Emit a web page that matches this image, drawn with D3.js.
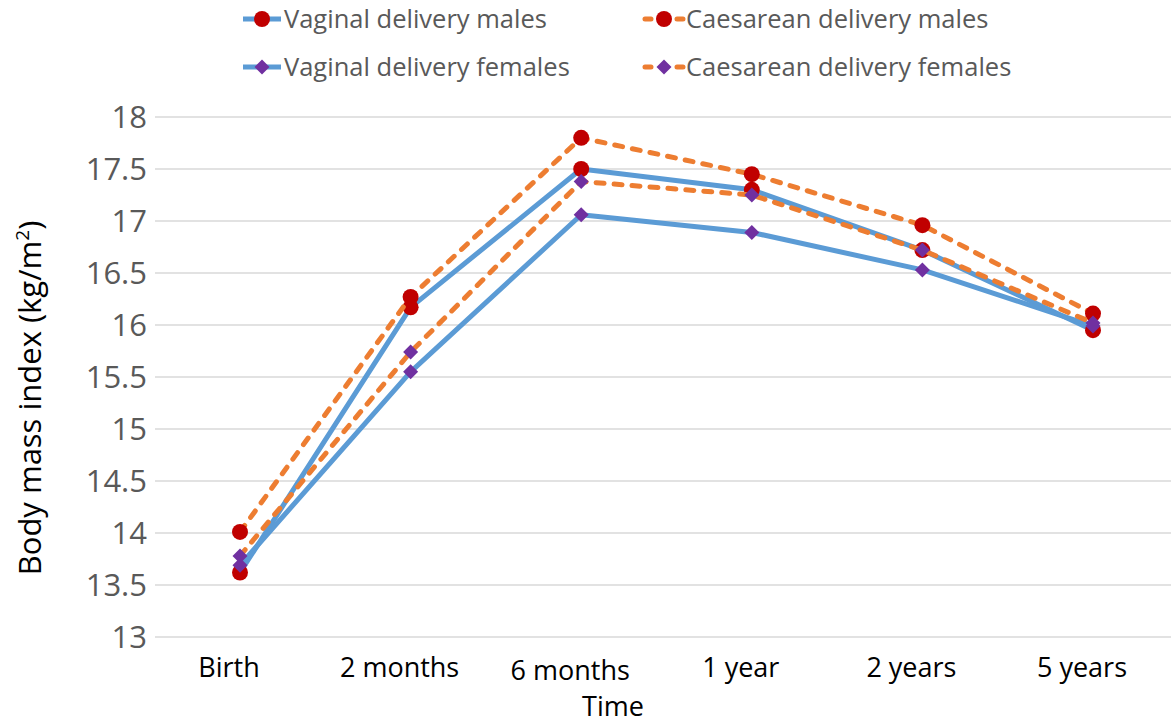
<!DOCTYPE html>
<html>
<head>
<meta charset="utf-8">
<script src="https://cdn.jsdelivr.net/npm/d3@7"></script>
<style>
  body { margin: 0; background: #fff; }
  svg { display: block; }
</style>
</head>
<body>
<div id="chart"></div>
<script>
// BMI by delivery mode and sex, birth to 5 years

const timepoints = ["Birth", "2 months", "6 months", "1 year", "2 years", "5 years"];
const vaginalMales = [13.62, 16.17, 17.50, 17.30, 16.72, 15.95];
const caesareanMales = [14.01, 16.27, 17.80, 17.45, 16.96, 16.11];
const vaginalFemales = [13.69, 15.55, 17.06, 16.89, 16.53, 15.99];
const caesareanFemales = [13.78, 15.74, 17.38, 17.25, 16.72, 16.02];
const yTicks = [13, 13.5, 14, 14.5, 15, 15.5, 16, 16.5, 17, 17.5, 18];

const series = [
  {name: "Vaginal delivery males", values: vaginalMales, color: "#5b9bd5", dash: null, marker: "circle"},
  {name: "Caesarean delivery males", values: caesareanMales, color: "#ed7d31", dash: "8,10", marker: "circle"},
  {name: "Vaginal delivery females", values: vaginalFemales, color: "#5b9bd5", dash: null, marker: "diamond"},
  {name: "Caesarean delivery females", values: caesareanFemales, color: "#ed7d31", dash: "8,10", marker: "diamond"}
];

const W = 1171, H = 726;
const svg = d3.select("#chart").append("svg")
  .attr("width", W)
  .attr("height", H);

const x = d3.scalePoint()
  .domain(timepoints)
  .range([240, 1093]);

const y = d3.scaleLinear()
  .domain([13, 18])
  .range([637, 117]);

// gridlines
svg.append("g")
  .selectAll("line")
  .data(yTicks)
  .enter()
  .append("line")
  .attr("x1", 155)
  .attr("x2", W)
  .attr("y1", d => y(d))
  .attr("y2", d => y(d))
  .attr("stroke", "#d9d9d9")
  .attr("stroke-width", 1.5);

// y tick labels
svg.append("g")
  .selectAll("text")
  .data(yTicks)
  .enter()
  .append("text")
  .attr("x", 147)
  .attr("y", d => y(d))
  .attr("dy", "0.36em")
  .attr("text-anchor", "end")
  .attr("font-family", "'Open Sans', sans-serif")
  .attr("font-size", 31)
  .attr("fill", "#595959")
  .text(d => d);

// x labels (Excel nudges them a bit left; 6 months sits lower)
svg.append("g")
  .selectAll("text")
  .data(timepoints)
  .enter()
  .append("text")
  .attr("x", d => x(d) - 11)
  .attr("y", (d, i) => i === 2 ? 680 : 677)
  .attr("text-anchor", "middle")
  .attr("font-family", "'Open Sans', sans-serif")
  .attr("font-size", 27)
  .attr("fill", "#000")
  .text(d => d);

// axis titles
svg.append("text")
  .attr("x", 613)
  .attr("y", 716)
  .attr("text-anchor", "middle")
  .attr("font-family", "'Open Sans', sans-serif")
  .attr("font-size", 27)
  .attr("fill", "#000")
  .text("Time");

const yTitle = svg.append("text")
  .attr("transform", "translate(41,398) rotate(-90)")
  .attr("text-anchor", "middle")
  .attr("font-family", "'Open Sans', sans-serif")
  .attr("font-size", 31)
  .attr("fill", "#000");
yTitle.append("tspan").text("Body mass index (kg/m");
yTitle.append("tspan").attr("font-size", 19).attr("dy", -12).text("2");
yTitle.append("tspan").attr("dy", 12).text(")");

const line = d3.line()
  .x((d, i) => x(timepoints[i]))
  .y(d => y(d));

function drawMarker(g, type, cx, cy) {
  if (type === "circle") {
    g.append("circle")
      .attr("cx", cx).attr("cy", cy).attr("r", 8)
      .attr("fill", "#c00000");
  } else {
    const s = 7.5;
    g.append("path")
      .attr("d", `M${cx},${cy - s}L${cx + s},${cy}L${cx},${cy + s}L${cx - s},${cy}Z`)
      .attr("fill", "#7030a0");
  }
}

series.forEach(s => {
  const g = svg.append("g");
  g.append("path")
    .datum(s.values)
    .attr("d", line)
    .attr("fill", "none")
    .attr("stroke", s.color)
    .attr("stroke-width", 5)
    .attr("stroke-linecap", s.dash ? "round" : "butt")
    .attr("stroke-linejoin", "round")
    .attr("stroke-dasharray", s.dash);
  s.values.forEach((v, i) => drawMarker(g, s.marker, x(timepoints[i]), y(v)));
});

// legend
const legendPos = [
  {lx: 243, ly: 19},
  {lx: 645, ly: 19},
  {lx: 243, ly: 67},
  {lx: 645, ly: 67}
];
series.forEach((s, i) => {
  const p = legendPos[i];
  const g = svg.append("g");
  g.append("line")
    .attr("x1", p.lx).attr("x2", p.lx + 38)
    .attr("y1", p.ly).attr("y2", p.ly)
    .attr("stroke", s.color)
    .attr("stroke-width", 5)
    .attr("stroke-linecap", s.dash ? "round" : "butt")
    .attr("stroke-dasharray", s.dash ? "6,10" : null);
  drawMarker(g, s.marker, p.lx + 19, p.ly);
  g.append("text")
    .attr("x", p.lx + 41)
    .attr("y", p.ly)
    .attr("dy", "0.35em")
    .attr("font-family", "'Open Sans', sans-serif")
    .attr("font-size", 25.5)
    .attr("fill", "#595959")
    .text(s.name);
});
</script>
</body>
</html>
